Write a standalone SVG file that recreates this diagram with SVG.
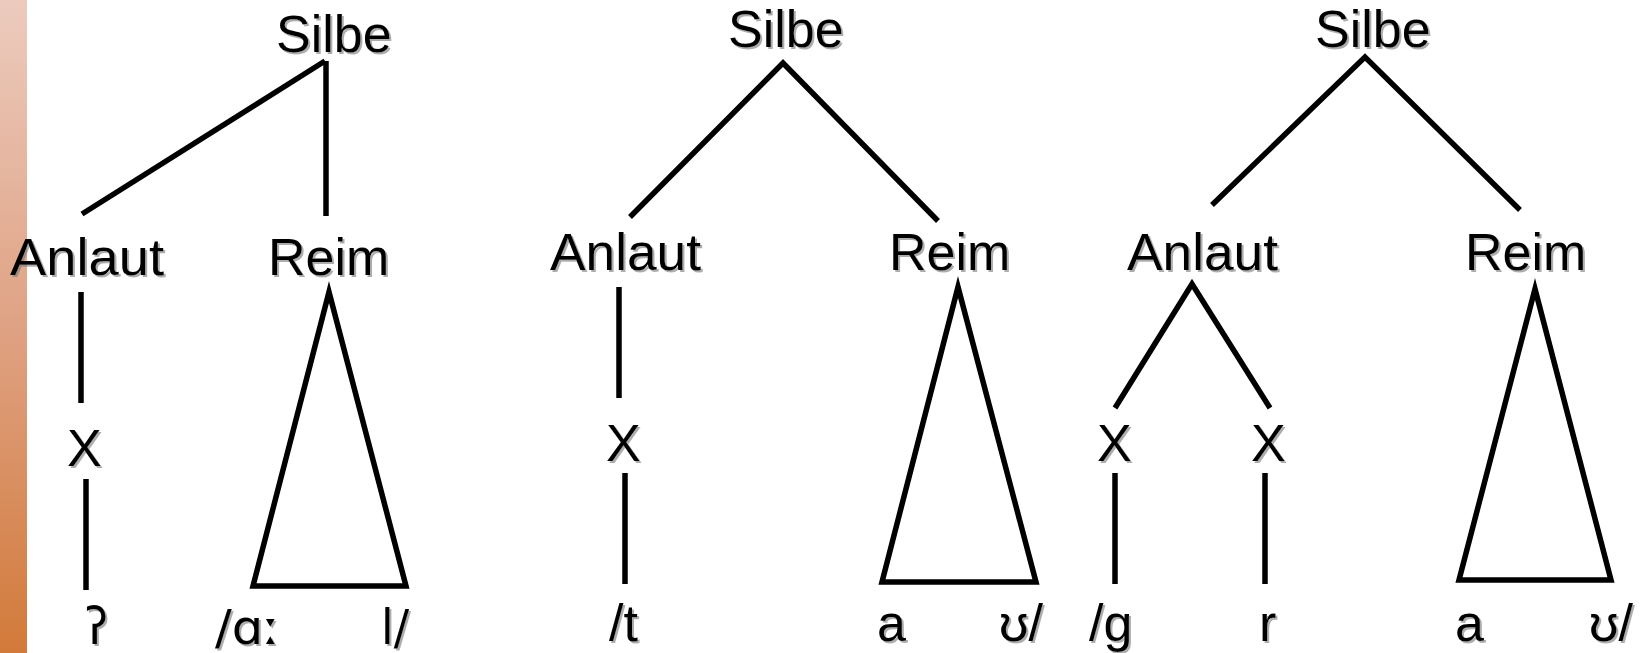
<svg xmlns="http://www.w3.org/2000/svg" width="1649" height="653" viewBox="0 0 1649 653">
<defs>
<linearGradient id="stripe" x1="0" y1="0" x2="0" y2="1">
<stop offset="0" stop-color="#eccbbe"/>
<stop offset="0.5" stop-color="#dfa283"/>
<stop offset="1" stop-color="#d27a3a"/>
</linearGradient>
<filter id="sh" x="-10%" y="-10%" width="130%" height="140%">
<feDropShadow dx="2" dy="2" stdDeviation="0.7" flood-color="#777" flood-opacity="0.6"/>
</filter>
</defs>
<style>
.t{font-family:"Liberation Sans",Arial,sans-serif;font-size:52px;fill:#000;filter:url(#sh)}
.ipa{font-family:"DejaVu Sans","Liberation Sans",sans-serif;font-size:48px;fill:#000;filter:url(#sh)}
.ln{stroke:#000;stroke-width:5.5;fill:none;stroke-linecap:butt;stroke-linejoin:miter}
</style>
<rect x="0" y="0" width="1649" height="653" fill="#fff"/>
<rect x="0" y="0" width="27" height="653" fill="url(#stripe)"/>

<g id="connectors">
<!-- tree 1 -->
<polyline class="ln" points="82,214 325,61"/>
<line class="ln" x1="326" y1="61" x2="326" y2="216"/>
<line class="ln" x1="81" y1="292" x2="81" y2="403"/>
<line class="ln" x1="86" y1="479" x2="86" y2="590"/>
<polygon class="ln" points="329,292 253,586 406,586"/>
<!-- tree 2 -->
<polyline class="ln" points="630,217 783,63 938,221"/>
<line class="ln" x1="619" y1="287" x2="619" y2="398"/>
<line class="ln" x1="625" y1="473" x2="625" y2="584"/>
<polygon class="ln" points="958,287 882,582 1036,582"/>
<!-- tree 3 -->
<polyline class="ln" points="1212,205 1365,57 1520,210"/>
<polyline class="ln" points="1115,408 1192,284 1270,408"/>
<line class="ln" x1="1115" y1="473" x2="1115" y2="584"/>
<line class="ln" x1="1265" y1="473" x2="1265" y2="584"/>
<polygon class="ln" points="1535,289 1459,580 1611,580"/>
</g>

<g id="tree1">
<g id="t1-silbe"><text class="t" x="276" y="52">Silbe</text></g>
<g id="t1-anlaut"><text class="t" x="10" y="275" textLength="154" lengthAdjust="spacingAndGlyphs">Anlaut</text></g>
<g id="t1-reim"><text class="t" x="268" y="275">Reim</text></g>
<g id="t1-x"><text class="t" x="67" y="466">X</text></g>
<g id="t1-glottal"><text class="ipa" x="85" y="644" style="font-size:52px" textLength="23" lengthAdjust="spacingAndGlyphs">ʔ</text></g>
<g id="t1-a"><text class="ipa" x="215" y="644" textLength="65" lengthAdjust="spacingAndGlyphs">/ɑː</text></g>
<g id="t1-l"><text class="ipa" x="381" y="644" textLength="28" lengthAdjust="spacingAndGlyphs">l/</text></g>
</g>

<g id="tree2">
<g id="t2-silbe"><text class="t" x="728" y="47">Silbe</text></g>
<g id="t2-anlaut"><text class="t" x="550" y="270" textLength="151" lengthAdjust="spacingAndGlyphs">Anlaut</text></g>
<g id="t2-reim"><text class="t" x="889" y="270">Reim</text></g>
<g id="t2-x"><text class="t" x="606" y="461">X</text></g>
<g id="t2-t"><text class="t" x="609" y="641">/t</text></g>
<g id="t2-a"><text class="t" x="877" y="641">a</text></g>
<g id="t2-u"><text class="t" x="999" y="641">ʊ/</text></g>
</g>

<g id="tree3">
<g id="t3-silbe"><text class="t" x="1315" y="47">Silbe</text></g>
<g id="t3-anlaut"><text class="t" x="1127" y="270" textLength="151" lengthAdjust="spacingAndGlyphs">Anlaut</text></g>
<g id="t3-reim"><text class="t" x="1465" y="270">Reim</text></g>
<g id="t3-x1"><text class="t" x="1097" y="461">X</text></g>
<g id="t3-x2"><text class="t" x="1251" y="461">X</text></g>
<g id="t3-g"><text class="t" x="1089" y="641">/g</text></g>
<g id="t3-r"><text class="t" x="1259" y="641">r</text></g>
<g id="t3-a"><text class="t" x="1455" y="641">a</text></g>
<g id="t3-u"><text class="t" x="1589" y="641">ʊ/</text></g>
</g>
</svg>
